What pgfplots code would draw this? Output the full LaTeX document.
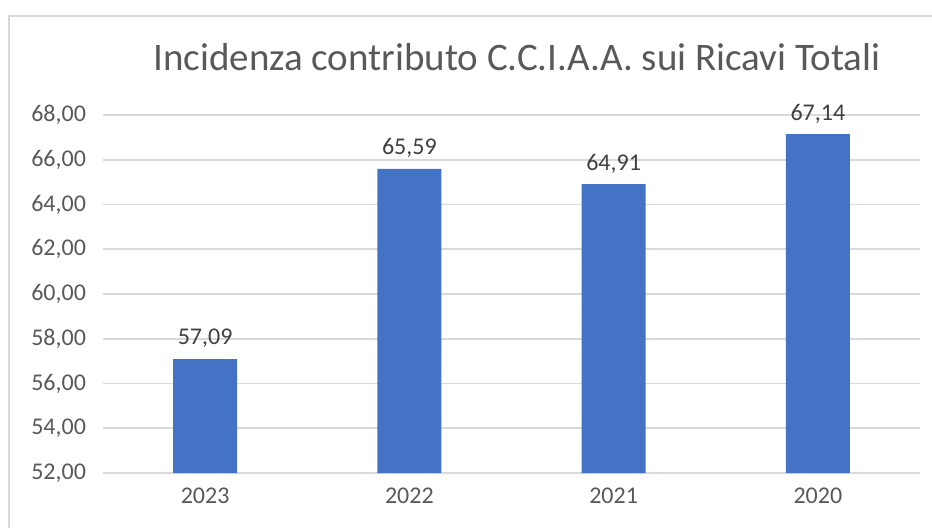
\documentclass[border=0pt]{standalone}
\usepackage{pgfplots}
\pgfplotsset{compat=1.18}
\usepackage{fontspec}
\setmainfont{Carlito}
\definecolor{barblue}{HTML}{4472C4}
\definecolor{gridgray}{HTML}{D9D9D9}
\definecolor{txtgray}{HTML}{595959}
\definecolor{lblgray}{HTML}{404040}
\begin{document}
\begin{tikzpicture}
\draw[gridgray,line width=1pt] (4.5pt,-10pt) rectangle (472pt,255.5pt);
\node[txtgray,font=\fontsize{19.5}{22}\selectfont] at (258.5pt,235pt) {Incidenza contributo C.C.I.A.A. sui Ricavi Totali};
\begin{axis}[
  at={(51.5pt,27pt)}, anchor=south west,
  width=408.5pt, height=179pt, scale only axis,
  xmin=-0.5, xmax=3.5, ymin=52, ymax=68,
  ytick={52,54,...,68},
  xtick={0,1,2,3}, xticklabels={2023,2022,2021,2020},
  axis line style={draw=none},
  major tick length=0pt,
  ymajorgrids, grid style={gridgray, line width=0.8pt},
  ticklabel style={txtgray, font=\fontsize{12}{14}\selectfont},
  yticklabel style={xshift=-5pt},
  xticklabel style={yshift=-4pt},
  /pgf/number format/.cd, fixed, fixed zerofill, precision=2, use comma, 1000 sep={}, assume math mode=true,
]
\addplot[ybar, bar width=32pt, fill=barblue, draw=none,
  nodes near coords, every node near coord/.append style={lblgray, font=\fontsize{12}{14}\selectfont, yshift=2pt},
  nodes near coords style={/pgf/number format/.cd, fixed, fixed zerofill, precision=2, use comma, assume math mode=true}]
  coordinates {(0,57.09) (1,65.59) (2,64.91) (3,67.14)};
\end{axis}
\pgfresetboundingbox
\path[use as bounding box] (0pt,0pt) rectangle (466pt,263.5pt);
\end{tikzpicture}
\end{document}
